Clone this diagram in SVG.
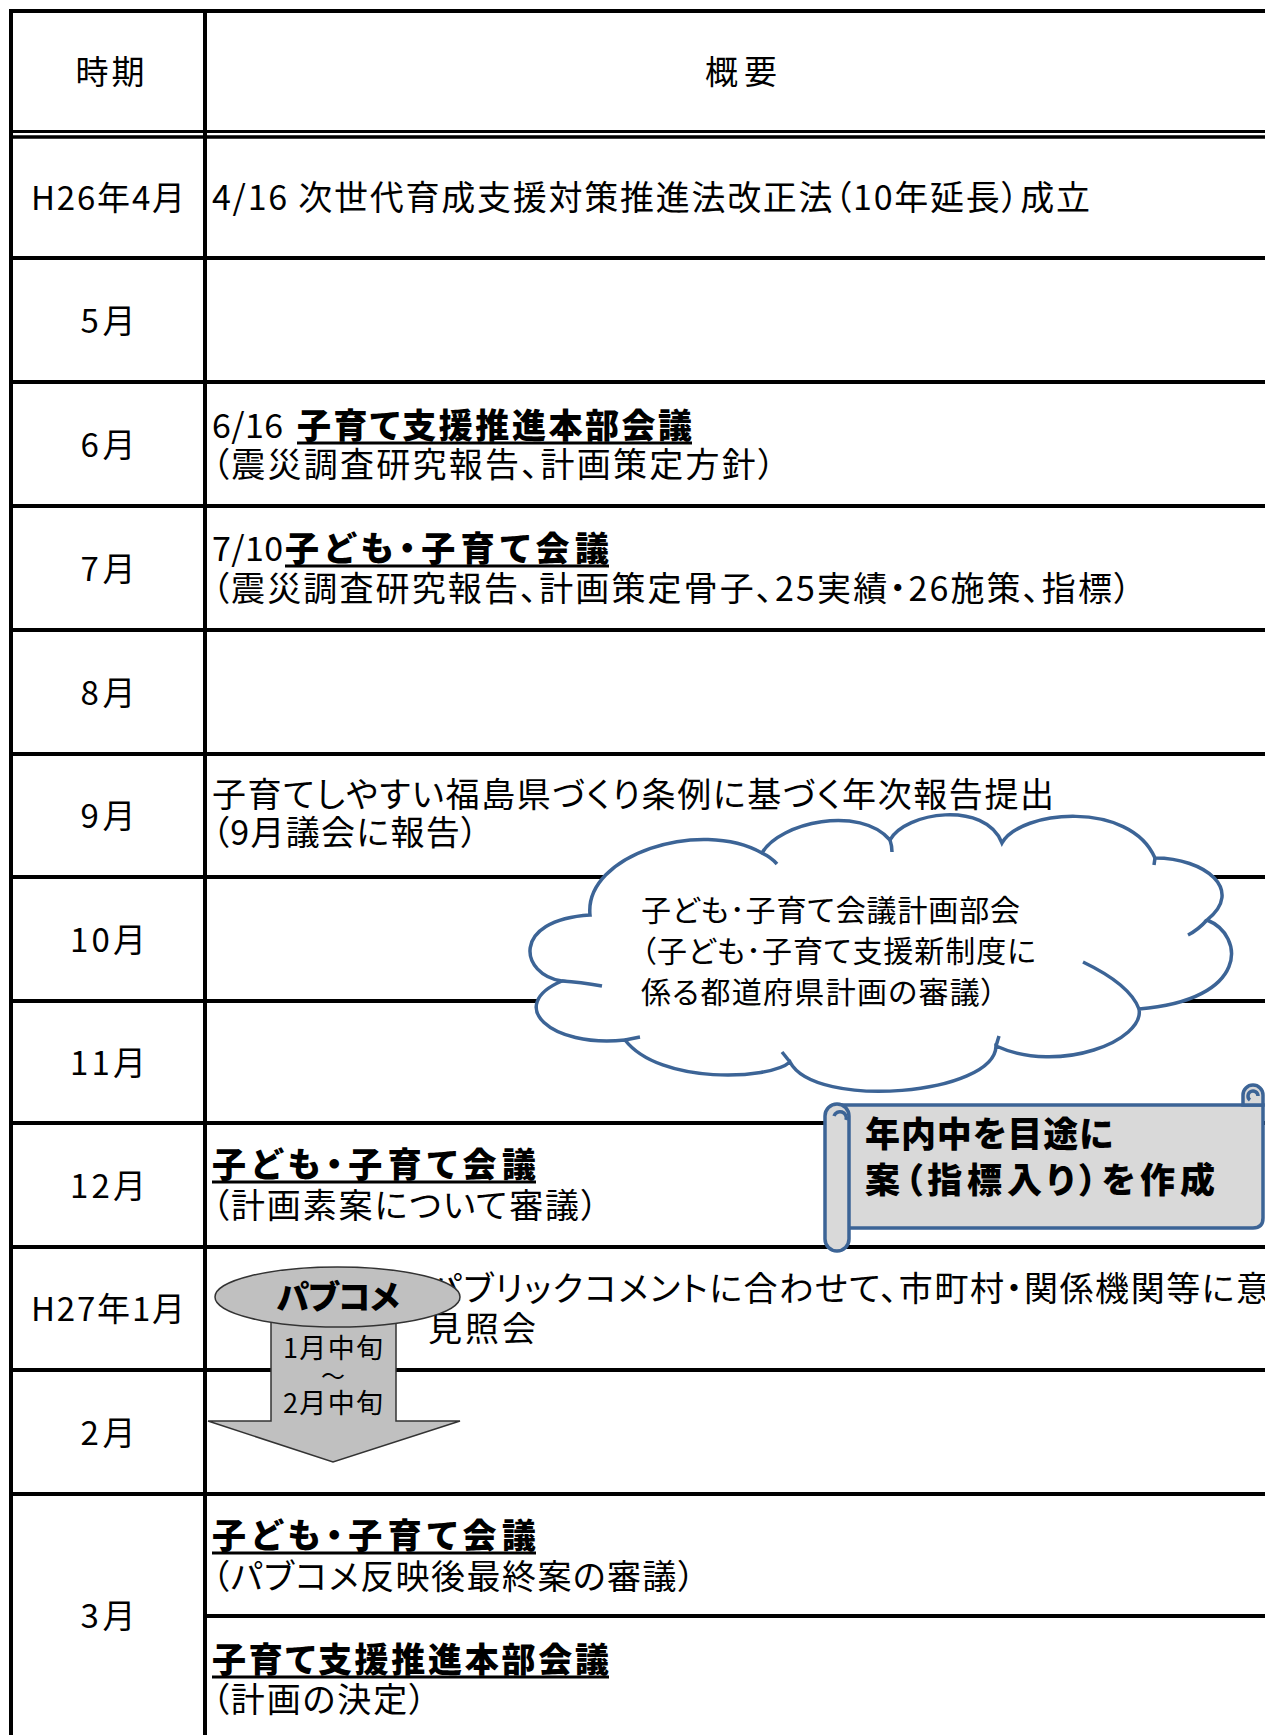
<svg xmlns="http://www.w3.org/2000/svg" width="1265" height="1735" viewBox="0 0 1265 1735">
<style>
.t{font-family:"Noto Sans CJK JP","Noto Sans",sans-serif;fill:#000;font-feature-settings:"palt";}
.n{font-size:34px;font-weight:400;}
.b{font-size:34px;font-weight:900;}
.lab{font-size:33px;text-anchor:middle;font-weight:400;}
.c{font-size:30px;font-weight:400;}
.ln{stroke:#000;stroke-width:4;fill:none;}
.ul{stroke:#000;stroke-width:3;}
.blue{stroke:#3C6496;stroke-width:3.5;}
</style>
<rect width="1265" height="1735" fill="#fff"/>
<g id="table">
  <line class="ln" x1="9" y1="11" x2="1265" y2="11"/>
  <line class="ln" x1="9" y1="131.5" x2="1265" y2="131.5" style="stroke-width:3"/>
  <line class="ln" x1="9" y1="137" x2="1265" y2="137" style="stroke-width:3.5"/>
  <line class="ln" x1="9" y1="258" x2="1265" y2="258"/>
  <line class="ln" x1="9" y1="382" x2="1265" y2="382"/>
  <line class="ln" x1="9" y1="506" x2="1265" y2="506"/>
  <line class="ln" x1="9" y1="630" x2="1265" y2="630"/>
  <line class="ln" x1="9" y1="754" x2="1265" y2="754"/>
  <line class="ln" x1="9" y1="877" x2="1265" y2="877"/>
  <line class="ln" x1="9" y1="1001" x2="1265" y2="1001"/>
  <line class="ln" x1="9" y1="1123" x2="1265" y2="1123"/>
  <line class="ln" x1="9" y1="1247" x2="1265" y2="1247"/>
  <line class="ln" x1="9" y1="1370" x2="1265" y2="1370"/>
  <line class="ln" x1="9" y1="1494" x2="1265" y2="1494"/>
  <line class="ln" x1="205" y1="1616" x2="1265" y2="1616"/>
  <line class="ln" x1="11" y1="9" x2="11" y2="1735"/>
  <line class="ln" x1="205" y1="9" x2="205" y2="1735"/>
</g>
<g id="header">
  <text class="t lab" x="110" y="84" textLength="69">時期</text>
  <text class="t lab" x="741" y="84" textLength="72">概要</text>
</g>
<g id="period-labels">
  <text class="t lab" x="108" y="210" textLength="154">H26年4月</text>
  <text class="t lab" x="108" y="333" textLength="55">5月</text>
  <text class="t lab" x="108" y="457" textLength="55">6月</text>
  <text class="t lab" x="108" y="581" textLength="55">7月</text>
  <text class="t lab" x="108" y="705" textLength="55">8月</text>
  <text class="t lab" x="108" y="828" textLength="55">9月</text>
  <text class="t lab" x="108" y="952" textLength="76">10月</text>
  <text class="t lab" x="108" y="1075" textLength="76">11月</text>
  <text class="t lab" x="108" y="1198" textLength="76">12月</text>
  <text class="t lab" x="108" y="1321" textLength="154">H27年1月</text>
  <text class="t lab" x="108" y="1445" textLength="55">2月</text>
  <text class="t lab" x="108" y="1628" textLength="55">3月</text>
</g>
<g id="row-h26-4">
  <text class="t n" x="212" y="210" textLength="878" lengthAdjust="spacing">4/16 次世代育成支援対策推進法改正法（10年延長）成立</text>
</g>
<g id="row-6">
  <text class="t n" x="212" y="438" textLength="71">6/16</text>
  <text class="t b" x="297" y="438" textLength="395">子育て支援推進本部会議</text>
  <line class="ul" x1="297" y1="443" x2="692" y2="443"/>
  <text class="t n" x="212" y="477" textLength="563">（震災調査研究報告、計画策定方針）</text>
</g>
<g id="row-7">
  <text class="t n" x="212" y="561" textLength="71">7/10</text>
  <text class="t b" x="285" y="561" textLength="324">子ども・子育て会議</text>
  <line class="ul" x1="285" y1="566" x2="609" y2="566"/>
  <text class="t n" x="212" y="601" textLength="919">（震災調査研究報告、計画策定骨子、25実績・26施策、指標）</text>
</g>
<g id="row-9">
  <text class="t n" x="212" y="807" textLength="842">子育てしやすい福島県づくり条例に基づく年次報告提出</text>
  <text class="t n" x="212" y="845" textLength="266">（9月議会に報告）</text>
</g>
<g id="row-12">
  <text class="t b" x="212" y="1177" textLength="324">子ども・子育て会議</text>
  <line class="ul" x1="212" y1="1182" x2="536" y2="1182"/>
  <text class="t n" x="212" y="1218" textLength="386">（計画素案について審議）</text>
</g>
<g id="row-h27-1">
  <text class="t n" x="430" y="1301" textLength="840">パブリックコメントに合わせて、市町村・関係機関等に意</text>
  <text class="t n" x="428" y="1341" textLength="108">見照会</text>
</g>
<g id="row-3a">
  <text class="t b" x="212" y="1548" textLength="324">子ども・子育て会議</text>
  <line class="ul" x1="212" y1="1553" x2="536" y2="1553"/>
  <text class="t n" x="212" y="1589" textLength="483">（パブコメ反映後最終案の審議）</text>
</g>
<g id="row-3b">
  <text class="t b" x="212" y="1672" textLength="397">子育て支援推進本部会議</text>
  <line class="ul" x1="212" y1="1677" x2="609" y2="1677"/>
  <text class="t n" x="212" y="1712" textLength="214">（計画の決定）</text>
</g>
<g id="cloud-node">
  <path class="blue" fill="#fff" d="M 590,915 C 584,855 700,818 762,853 C 780,822 860,805 890,840 C 905,812 985,800 1002,843 C 1020,810 1130,800 1155,858 C 1205,858 1245,890 1207,920 C 1245,935 1250,1000 1139,1009 C 1145,1040 1060,1075 996,1046 C 995,1095 815,1110 790,1062 C 770,1080 660,1085 625,1040 C 550,1048 505,1005 562,981 C 520,975 510,920 590,915 Z"/>
  <path class="blue" fill="none" d="M 762,853 Q 771,857 777,864 M 890,840 Q 892,846 892,852 M 1155,858 L 1154,865 M 1207,920 Q 1198,930 1188,935 M 1083,962 C 1108,974 1132,990 1139,1009 M 996,1046 L 999,1036 M 790,1062 L 782,1052 M 625,1040 L 640,1037 M 562,981 Q 580,982 602,986"/>
  <text class="t c" x="641" y="921" textLength="379">子ども･子育て会議計画部会</text>
  <text class="t c" x="641" y="962" textLength="395">（子ども･子育て支援新制度に</text>
  <text class="t c" x="641" y="1003" textLength="355">係る都道府県計画の審議）</text>
</g>
<g id="scroll-node">
  <path class="blue" fill="#D9D9D9" d="M 837,1105 L 1263,1105 L 1263,1218 Q 1263,1228 1253,1228 L 837,1228 Z"/>
  <path class="blue" fill="#D9D9D9" d="M 1243,1105 L 1243,1095 A 10,10 0 0 1 1263,1095 L 1263,1105 Z"/>
  <path class="blue" fill="none" d="M 1250,1100 A 5,5 0 1 1 1258,1096"/>
  <rect class="blue" fill="#D9D9D9" x="825" y="1104" width="24" height="147" rx="12"/>
  <path class="blue" fill="none" d="M 846,1120 A 6,6 0 1 0 834,1116"/>
  <text class="t b" x="865" y="1147" textLength="248" style="font-size:35px">年内中を目途に</text>
  <text class="t b" x="865" y="1193" textLength="350" style="font-size:35px">案（指標入り）を作成</text>
</g>
<g id="connectors">
  <path fill="#C0C0C0" stroke="#333" stroke-width="1.5" d="M 271,1300 L 271,1421 L 208,1421 L 333,1462 L 460,1421 L 396,1421 L 396,1300 Z"/>
  <text class="t" x="333" y="1358" text-anchor="middle" textLength="100" style="font-size:27px">1月中旬</text>
  <text class="t" x="333" y="1385" text-anchor="middle" style="font-size:24px">～</text>
  <text class="t" x="333" y="1413" text-anchor="middle" textLength="100" style="font-size:27px">2月中旬</text>
</g>
<g id="pabukome-node">
  <ellipse cx="337.5" cy="1297" rx="122.5" ry="30" fill="#C0C0C0" stroke="#333" stroke-width="1.5"/>
  <text class="t b" x="338" y="1309" text-anchor="middle" textLength="123" style="font-size:33px">パブコメ</text>
</g>
</svg>
